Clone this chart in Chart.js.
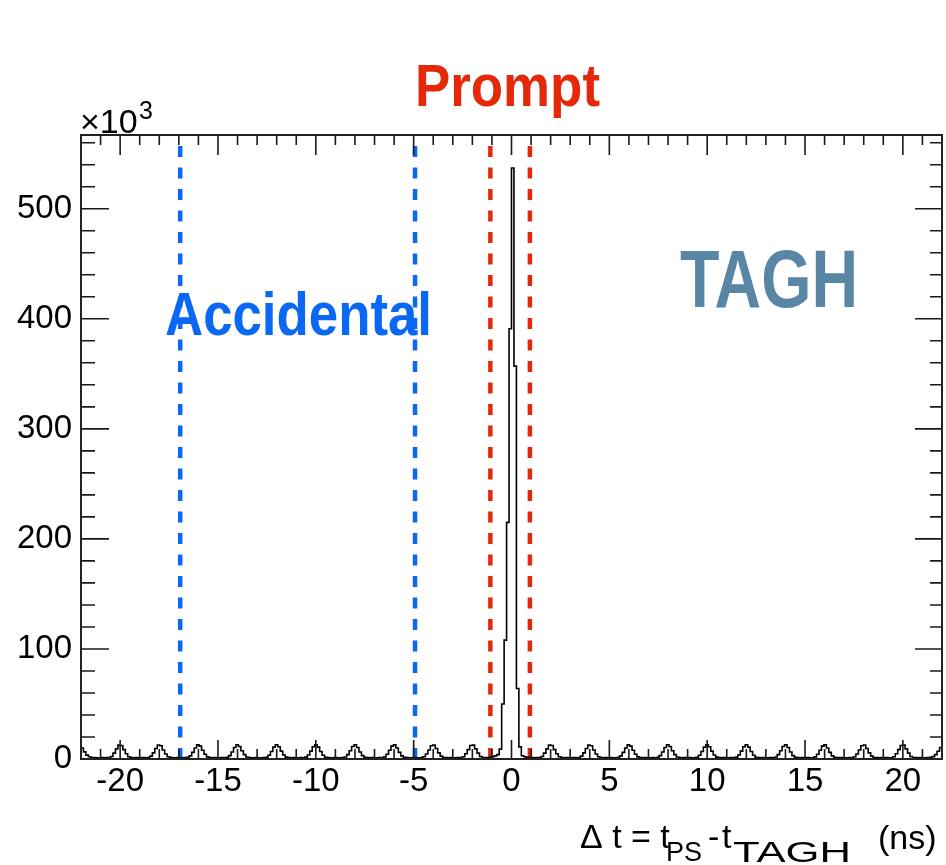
<!DOCTYPE html>
<html><head><meta charset="utf-8">
<script src="https://cdn.jsdelivr.net/npm/chart.js@4.4.1/dist/chart.umd.min.js"></script>
<style>html,body{margin:0;padding:0;background:#fff;}#wrap{width:946px;height:865px;}</style>
</head><body><div id="wrap"><canvas id="c" width="946" height="865"></canvas></div>
<script>
// ---- data (counts in units of 10^3 per bin) ----
const binLow = -22;
const binHigh = 22;
const counts = [
  10,6.5,3.5,2,1.4,
  1.3,1.2,1.2,1.3,1.2,1.3,
  1.4,2.3,5.3,9.2,12.6,12.2,8.5,4.8,2.1,1.3,
  1.2,1.3,1.2,1.2,1.3,1.2,
  1.4,2.6,5.6,9.6,12.7,12,8.2,4.5,2,1.3,
  1.2,1.2,1.3,1.2,1.2,1.3,
  1.5,2.8,6,10,12.8,11.7,7.9,4.3,1.9,1.3,
  1.2,1.3,1.2,1.2,1.3,1.2,
  1.5,3.1,6.4,10.5,12.9,11.4,7.5,4,1.8,1.3,
  1.2,1.2,1.3,1.2,1.2,1.3,
  1.6,3.4,6.8,10.8,13,11.1,7.2,3.7,1.7,1.3,
  1.2,1.3,1.2,1.2,1.3,1.2,
  1.7,3.7,7.2,11.1,13,10.8,6.8,3.4,1.6,1.3,
  1.2,1.2,1.3,1.2,1.2,1.3,
  1.8,4,7.5,11.4,12.9,10.5,6.4,3.1,1.5,1.3,
  1.2,1.3,1.2,1.2,1.3,1.2,
  1.9,4.3,7.9,11.7,12.8,10,6,2.8,1.5,1.3,
  1.2,1.2,1.3,1.2,1.2,1.3,
  2,4.5,8.2,12,12.7,9.6,5.6,2.6,1.4,1.3,
  1.2,1.3,1.2,1.2,1.3,1.2,
  2.1,4.8,8.5,12.2,12.6,9.2,5.3,2.3,1.4,1.3,
  1.4,1.6,2,2.8,4,9,50,108,215,391,537,357,64,11,3,2,
  1.6,1.4,1.3,1.2,1.3,1.4,
  2.3,5.3,9.2,12.6,12.2,8.5,4.8,2.1,1.3,1.2,
  1.3,1.2,1.2,1.3,1.2,1.4,
  2.6,5.6,9.6,12.7,12,8.2,4.5,2,1.3,1.2,
  1.3,1.2,1.3,1.2,1.2,1.5,
  2.8,6,10,12.8,11.7,7.9,4.3,1.9,1.3,1.2,
  1.3,1.2,1.2,1.3,1.2,1.5,
  3.1,6.4,10.5,12.9,11.4,7.5,4,1.8,1.3,1.2,
  1.3,1.2,1.3,1.2,1.2,1.6,
  3.4,6.8,10.8,13,11.1,7.2,3.7,1.7,1.3,1.2,
  1.3,1.2,1.2,1.3,1.2,
  1.7,3.7,7.2,11.1,13,10.8,6.8,3.4,1.6,1.3,1.2,
  1.3,1.2,1.2,1.3,1.2,
  1.8,4,7.5,11.4,12.9,10.5,6.4,3.1,1.5,1.3,1.2,
  1.3,1.2,1.3,1.2,1.2,
  1.9,4.3,7.9,11.7,12.8,10,6,2.8,1.5,1.3,1.2,
  1.3,1.2,1.2,1.3,1.2,
  2,4.5,8.2,12,12.7,9.6,5.6,2.6,1.4,1.3,1.2,
  1.3,1.2,1.3,1.2,1.2,
  2.1,4.8,8.5,12.2,12.6,9.2,5.3,2.3,1.4,1.3,
  1.2,1.3,1.2,1.2,1.3,
  1.5,2.2,4,7,10.5
];
const xTickValues = [-20, -15, -10, -5, 0, 5, 10, 15, 20];
const yTickValues = [0, 100, 200, 300, 400, 500];
const accidentalCuts = [-16.93, -4.93];
const promptCuts = [-1.08, 0.94];
const cutTop = 557;
const yMax = 567;
const textPrompt = 'Prompt';
const textAccidental = 'Accidental';
const textDetector = 'TAGH';

if (counts.length !== 350) throw new Error('counts length ' + counts.length);

// ---- build histogram table ----
const binWidth = (binHigh - binLow) / counts.length;
const histPoints = counts.map((v, k) => ({ x: binLow + k * binWidth, y: v }));
histPoints.push({ x: binHigh, y: counts[counts.length - 1] });

const FONT = "'Liberation Sans', Arial, Helvetica, sans-serif";
const RED = '#e4290b';
const BLUE = '#0b68f5';
const STEEL = '#5a86a5';

function cutLine(x, color) {
  return {
    data: [{ x: x, y: cutTop }, { x: x, y: 0 }],
    borderColor: color, borderWidth: 4.5, borderDash: [11, 10.5],
    pointRadius: 0, fill: false, stepped: false, order: 2
  };
}

function fittedText(ctx, text, font, color, left, baseline, width) {
  ctx.save();
  ctx.font = font;
  ctx.fillStyle = color;
  ctx.textBaseline = 'alphabetic';
  ctx.textAlign = 'left';
  const w = ctx.measureText(text).width;
  ctx.translate(left, baseline);
  ctx.scale(width ? width / w : 1, 1);
  ctx.fillText(text, 0, 0);
  ctx.restore();
}

const framePlugin = {
  id: 'frame',
  afterDatasetsDraw(chart) {
    const { ctx, chartArea: a, scales: { x, y } } = chart;
    ctx.save();
    ctx.strokeStyle = '#1a1a1a';
    ctx.lineWidth = 1.6;
    ctx.beginPath();
    for (let v = Math.ceil(x.min); v <= x.max; v++) {
      const px = x.getPixelForValue(v);
      const major = v % 5 === 0;
      ctx.moveTo(px, a.bottom); ctx.lineTo(px, a.bottom - (major ? 19 : 10));
      ctx.moveTo(px, a.top); ctx.lineTo(px, a.top + (major ? 20 : 10));
    }
    for (let v = 0; v <= y.max; v += 20) {
      const py = y.getPixelForValue(v);
      const major = v % 100 === 0;
      ctx.moveTo(a.left, py); ctx.lineTo(a.left + (major ? 28 : 14), py);
      ctx.moveTo(a.right, py); ctx.lineTo(a.right - (major ? 27 : 12), py);
    }
    ctx.stroke();
    ctx.lineWidth = 2;
    ctx.strokeStyle = '#222';
    ctx.strokeRect(a.left, a.top, a.right - a.left, a.bottom - a.top);
    ctx.restore();
  },
  afterDraw(chart) {
    const { ctx, chartArea: a } = chart;
    ctx.save();
    ctx.fillStyle = '#000';
    ctx.font = '34px ' + FONT;
    ctx.textBaseline = 'alphabetic';
    ctx.fillText('\u00d710', a.left - 1, 133);
    ctx.font = '25px ' + FONT;
    ctx.fillText('3', a.left + 58, 119);
    ctx.restore();
    // x-axis title, piece by piece (main line + subscripts)
    const main = '34px ' + FONT;
    const pieces = [
      ['\u0394 t = t', main, 580, 848, 0],
      ['PS', '27px ' + FONT, 666, 861, 0],
      ['-', main, 708, 848, 0],
      ['t', main, 722, 848, 0],
      ['TAGH', '29px ' + FONT, 733, 862, 118],
      ['(ns)', main, 878, 849, 0]
    ];
    for (const p of pieces) fittedText(ctx, p[0], p[1], '#000', p[2], p[3], p[4]);
    // annotations
    fittedText(ctx, textPrompt, 'bold 60px ' + FONT, RED, 415, 106, 185);
    fittedText(ctx, textAccidental, 'bold 62px ' + FONT, BLUE, 165, 335, 267);
    fittedText(ctx, textDetector, 'bold 82px ' + FONT, STEEL, 680, 307, 178);
  }
};

new Chart(document.getElementById('c'), {
  type: 'line',
  data: {
    datasets: [
      { data: histPoints, borderColor: '#000', borderWidth: 1.6, stepped: true, pointRadius: 0, fill: false, order: 1 },
      cutLine(accidentalCuts[0], BLUE),
      cutLine(accidentalCuts[1], BLUE),
      cutLine(promptCuts[0], RED),
      cutLine(promptCuts[1], RED)
    ]
  },
  options: {
    responsive: false, animation: false, devicePixelRatio: 1,
    layout: { padding: { top: 135, right: 4, left: 0, bottom: 0 } },
    plugins: { legend: { display: false }, tooltip: { enabled: false } },
    elements: { line: { tension: 0 } },
    scales: {
      x: {
        type: 'linear', min: binLow, max: binHigh,
        afterBuildTicks: s => { s.ticks = xTickValues.map(v => ({ value: v })); },
        afterFit: s => { s.height = 106; },
        grid: { display: false, drawTicks: false },
        border: { display: false },
        ticks: { font: { size: 33, family: FONT }, color: '#000', padding: 3, maxRotation: 0, autoSkip: false }
      },
      y: {
        type: 'linear', min: 0, max: yMax,
        afterBuildTicks: s => { s.ticks = yTickValues.map(v => ({ value: v })); },
        afterFit: s => { s.width = 81; },
        grid: { display: false, drawTicks: false },
        border: { display: false },
        ticks: { font: { size: 33, family: FONT }, color: '#000', padding: 9 }
      }
    }
  },
  plugins: [framePlugin]
});
</script></body></html>
